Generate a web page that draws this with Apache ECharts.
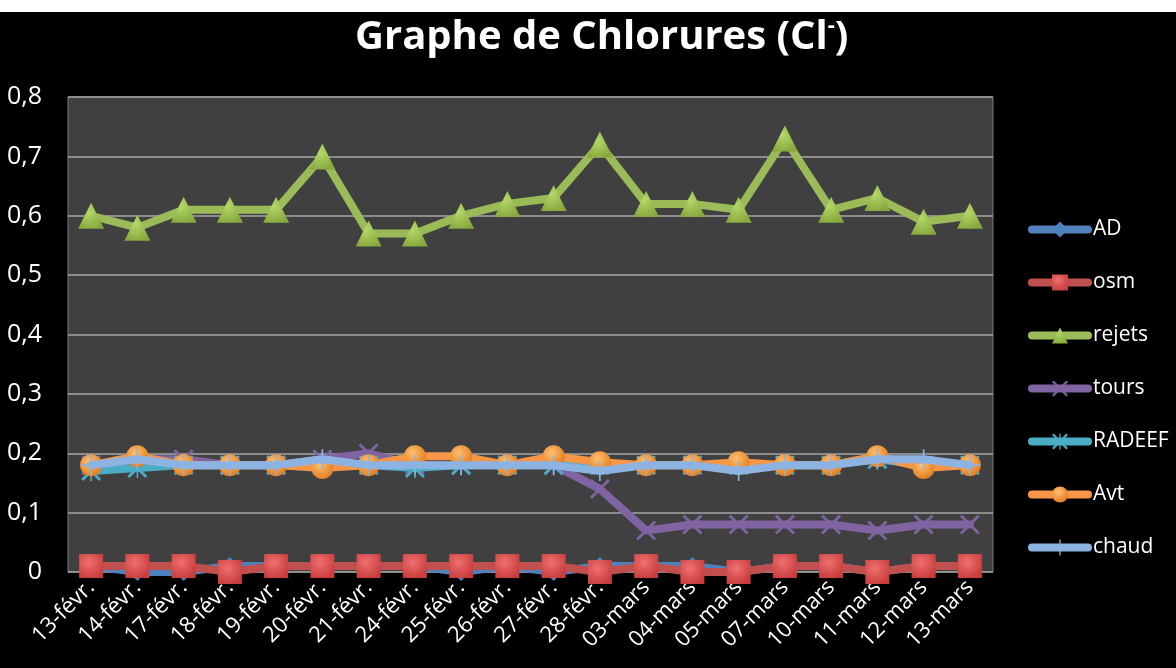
<!DOCTYPE html>
<html><head><meta charset="utf-8">
<script src="https://cdn.jsdelivr.net/npm/echarts@6/dist/echarts.min.js"></script>
<style>html,body{margin:0;padding:0;background:#fff;}#c{position:absolute;left:0;top:12px;width:1176px;height:656px;background:#000;}</style>
</head><body><div id="c"></div>
<script>
const categories = ['13-févr.','14-févr.','17-févr.','18-févr.','19-févr.','20-févr.','21-févr.','24-févr.','25-févr.','26-févr.','27-févr.','28-févr.','03-mars','04-mars','05-mars','07-mars','10-mars','11-mars','12-mars','13-mars'];
const AD     = [0.01,0.00,0.00,0.01,0.01,0.01,0.01,0.01,0.00,0.01,0.00,0.01,0.01,0.01,0.00,0.01,0.01,0.00,0.01,0.01];
const osm    = [0.01,0.01,0.01,0.00,0.01,0.01,0.01,0.01,0.01,0.01,0.01,0.00,0.01,0.00,0.00,0.01,0.01,0.00,0.01,0.01];
const rejets = [0.60,0.58,0.61,0.61,0.61,0.70,0.57,0.57,0.60,0.62,0.63,0.72,0.62,0.62,0.61,0.73,0.61,0.63,0.59,0.60];
const tours  = [0.18,0.19,0.19,0.18,0.18,0.19,0.20,0.18,0.18,0.18,0.18,0.14,0.07,0.08,0.08,0.08,0.08,0.07,0.08,0.08];
const RADEEF = [0.17,0.175,0.18,0.18,0.18,0.18,0.18,0.175,0.18,0.18,0.18,0.18,0.18,0.18,0.18,0.18,0.18,0.19,0.18,0.18];
const Avt    = [0.18,0.195,0.18,0.18,0.18,0.175,0.18,0.195,0.195,0.18,0.195,0.185,0.18,0.18,0.185,0.18,0.18,0.195,0.175,0.18];
const chaud  = [0.18,0.19,0.18,0.18,0.18,0.19,0.18,0.18,0.18,0.18,0.18,0.17,0.18,0.18,0.17,0.18,0.18,0.19,0.19,0.18];
const yTicks = ['0','0,1','0,2','0,3','0,4','0,5','0,6','0,7','0,8'];

const X_PATH = 'path://M0,1L1,0L5,4L9,0L10,1L6,5L10,9L9,10L5,6L1,10L0,9L4,5Z';
const PLUS_PATH = 'path://M4.6,0H5.4V4.6H10V5.4H5.4V10H4.6V5.4H0V4.6H4.6Z';
const STAR_PATH = 'path://M0,1L1,0L5,4L9,0L10,1L6,5L10,9L9,10L5,6L1,10L0,9L4,5ZM4.6,0H5.4V10H4.6Z';

function mk(name, data, color, symbol, size, z, extra) {
  return Object.assign({
    name: name, type: 'line', data: data, symbol: symbol, symbolSize: size, z: z,
    lineStyle: {color: color, width: 8, cap: 'round', join: 'round'},
    itemStyle: {color: color},
    emphasis: {disabled: true}
  }, extra || {});
}
const grad = (c1, c2) => new echarts.graphic.RadialGradient(0.4, 0.35, 0.7, [{offset: 0, color: c1}, {offset: 1, color: c2}]);

const chart = echarts.init(document.getElementById('c'));
chart.setOption({
  backgroundColor: '#000',
  animation: false,
  title: {
    text: '{m|Graphe de Chlorures (Cl}{s|-}{m|)}',
    left: 350, top: -2,
    textStyle: {rich: {
      m: {fontFamily: 'Open Sans', fontWeight: 'bold', fontSize: 40, color: '#fff'},
      s: {fontFamily: 'Open Sans', fontWeight: 'bold', fontSize: 22, color: '#fff', padding: [0,0,24,0]}
    }}
  },
  legend: {
    orient: 'vertical', left: 1028, top: 207, padding: 0, itemWidth: 56, itemHeight: 20, itemGap: 32,
    lineStyle: {width: 8, cap: 'round'},
    textStyle: {color: '#fff', fontSize: 21, fontFamily: 'Open Sans'},
    data: ['AD','osm','rejets','tours','RADEEF','Avt','chaud']
  },
  grid: {left: 68, right: 183, top: 85, bottom: 96, show: true, backgroundColor: '#404040', borderColor: '#7a7a7a', borderWidth: 1},
  xAxis: {
    type: 'category', data: categories, boundaryGap: true,
    axisLine: {show: false}, axisTick: {show: false},
    axisLabel: {color: '#fff', fontSize: 22, fontFamily: 'Open Sans', rotate: 45, margin: 12, interval: 0}
  },
  yAxis: {
    type: 'value', min: 0, max: 0.8, interval: 0.1,
    axisLine: {show: false}, axisTick: {show: false},
    splitLine: {lineStyle: {color: '#a6a6a6', width: 1.5}},
    axisLabel: {color: '#fff', fontSize: 25, fontFamily: 'Open Sans', margin: 26,
      formatter: (v) => yTicks[Math.round(v * 10)]}
  },
  series: [
    mk('AD', AD, '#4f81bd', 'diamond', 18, 2),
    mk('osm', osm, '#c0504d', 'rect', 24, 3, {itemStyle: {color: grad('#f07070', '#c83c3c')}}),
    mk('rejets', rejets, '#9bbb59', 'triangle', 26, 4, {itemStyle: {color: grad('#b5d86a', '#86a83c')}}),
    mk('tours', tours, '#8064a2', X_PATH, 20, 5),
    mk('RADEEF', RADEEF, '#4bacc6', STAR_PATH, 20, 6),
    mk('Avt', Avt, '#f79646', 'circle', 22, 7, {itemStyle: {color: grad('#ffc070', '#e07a1c')}}),
    mk('chaud', chaud, '#8db3e2', PLUS_PATH, 20, 8)
  ]
});
</script></body></html>
